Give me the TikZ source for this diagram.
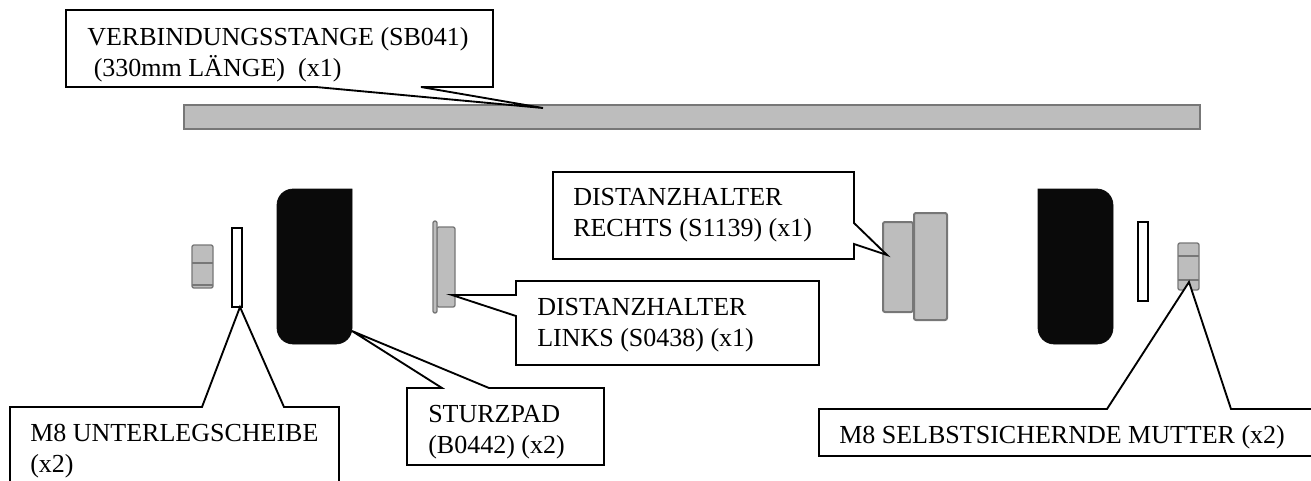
\documentclass[tikz,border=0pt]{standalone}
\usepackage{fontspec}
\setmainfont{Liberation Serif}
\definecolor{partgray}{HTML}{BDBDBD}
\definecolor{edgegray}{HTML}{777777}
\definecolor{padblack}{HTML}{0A0A0A}
\begin{document}
\begin{tikzpicture}[x=0.75pt, y=-0.75pt, line join=miter]
\tikzstyle{part_style} = [draw=edgegray, fill=partgray, line width=1.5pt, rounded corners=1.5pt]
\tikzstyle{pad_style} = [draw=padblack, fill=padblack, line width=0.5pt]
\tikzstyle{washer_style} = [draw=black, fill=white, line width=1.2pt]
\tikzstyle{call_style} = [draw=black, fill=white, line width=1.4pt]
\tikzstyle{label_style} = [anchor=west, align=left, inner sep=0pt, font=\fontsize{19.5}{23.25}\selectfont]

\useasboundingbox (0,0) rectangle (1311,480);

% rod
\draw[draw=edgegray, fill=partgray, line width=0.9pt] (184,105) rectangle (1200,129);

% left side
\draw[part_style, line width=1pt] (192,245) rectangle (213,288);
\draw[draw=edgegray, line width=1pt] (192,263) -- (213,263) (192,285) -- (213,285);
\draw[washer_style] (232,228) rectangle (242,307);
\draw[pad_style, rounded corners=12pt] (352,189) -- (277,189) -- (277,344) -- (352,344) [sharp corners] -- cycle;
\draw[part_style, line width=1pt] (437,227) rectangle (455,307);
\draw[part_style, line width=1pt] (433,221) rectangle (437,313);

% right side
\draw[part_style] (883,222) rectangle (913,312);
\draw[part_style] (914,213) rectangle (947,320);
\draw[pad_style, rounded corners=12pt] (1038,189) -- (1113,189) -- (1113,344) -- (1038,344) [sharp corners] -- cycle;
\draw[washer_style] (1138,222) rectangle (1148,301);
\draw[part_style, line width=1pt] (1178,243) rectangle (1199,290);
\draw[draw=edgegray, line width=1pt] (1178,256) -- (1199,256) (1178,280) -- (1199,280);

% callouts
\draw[call_style] (66,10) -- (493,10) -- (493,87) -- (421,87) -- (543,108) -- (316,87) -- (66,87) -- cycle;
\draw[call_style] (553,172) -- (854,172) -- (854,223) -- (887,255) -- (854,244) -- (854,259) -- (553,259) -- cycle;
\draw[call_style] (516,281) -- (819,281) -- (819,365) -- (516,365) -- (516,316) -- (452,295) -- (516,295) -- cycle;
\draw[call_style] (10,407) -- (202,407) -- (240,307) -- (284,407) -- (339,407) -- (339,482) -- (10,482) -- cycle;
\draw[call_style] (407,388) -- (442,388) -- (352,331) -- (489,388) -- (604,388) -- (604,465) -- (407,465) -- cycle;
\draw[call_style] (1313,409) -- (1231,409) -- (1189,282) -- (1107,409) -- (819,409) -- (819,456) -- (1313,456);

\node[label_style] (rod_text) at (87,54.5) {VERBINDUNGSSTANGE (SB041)\\\ (330mm LÄNGE)\ \ (x1)};
\node[label_style] (right_text) at (573,215) {DISTANZHALTER\\RECHTS (S1139) (x1)};
\node[label_style] (left_text) at (537,325) {DISTANZHALTER\\LINKS (S0438) (x1)};
\node[label_style] (washer_text) at (30,451.5) {M8 UNTERLEGSCHEIBE\\(x2)};
\node[label_style] (pad_text) at (428,432) {STURZPAD\\(B0442) (x2)};
\node[label_style] (nut_text) at (839,437) {M8 SELBSTSICHERNDE MUTTER (x2)};
\end{tikzpicture}
\end{document}
